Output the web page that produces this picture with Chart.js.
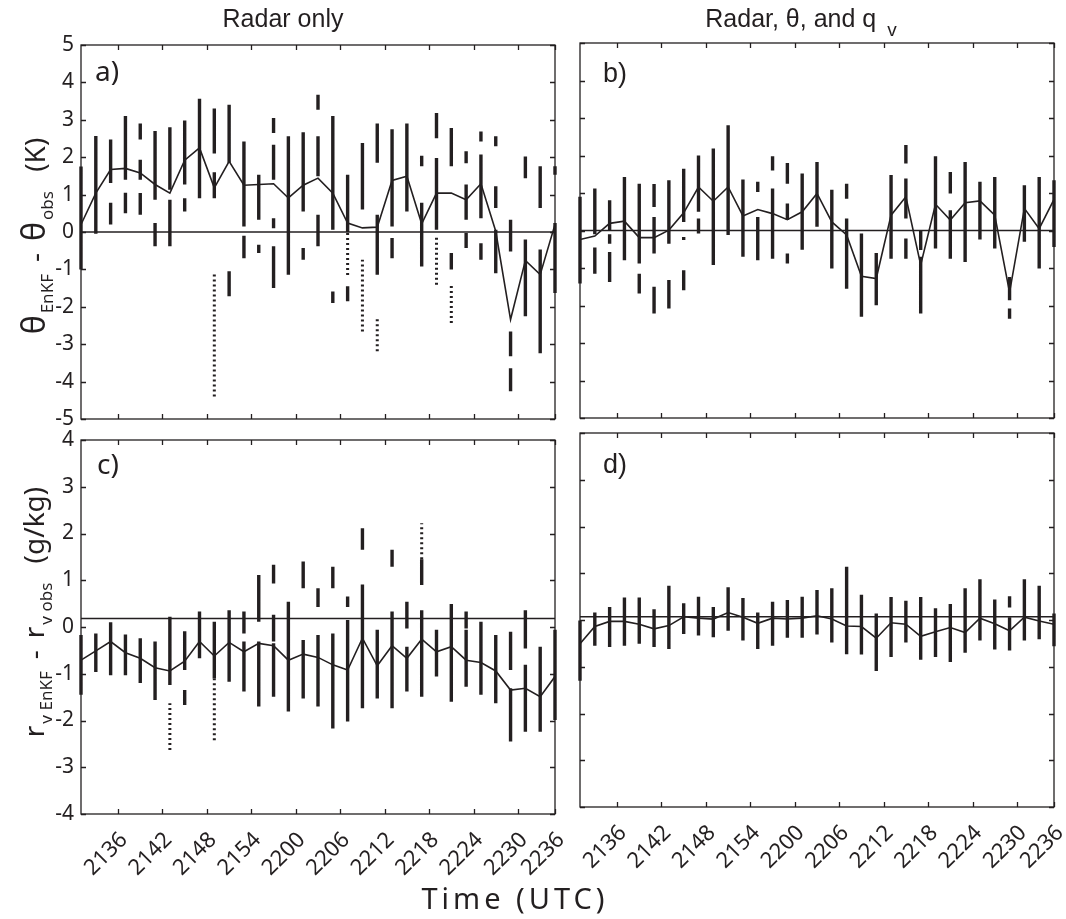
<!DOCTYPE html>
<html>
<head>
<meta charset="utf-8">
<script src="https://cdn.jsdelivr.net/npm/chart.js@4"></script>
<style>
  html, body { margin: 0; padding: 0; background: #fff; }
  body { width: 1066px; height: 919px; position: relative; overflow: hidden; color: #231f20; }
  canvas { position: absolute; left: 0; top: 0; }
  .t { position: absolute; white-space: nowrap; line-height: 1; }
  .title { font-family: "Liberation Sans", Arial, sans-serif; font-size: 25px; transform: translateX(-50%); }
  .tag { font-family: "Noto Sans", sans-serif; font-size: 28px; }
  .tag2 { font-family: "Liberation Sans", Arial, sans-serif; font-size: 27px; }
  .ylab { font-family: "Noto Sans", sans-serif; font-size: 28px; transform: translate(-50%, -50%) rotate(-90deg); }
  .ylab .g { font-size: 32px; }
  .ylab .s { font-size: 17px; position: relative; top: 8px; margin-left: 2px; }
  .ylab .gap { display: inline-block; width: 12px; }
  .xlab { font-family: "Noto Sans", sans-serif; font-size: 29px; letter-spacing: 4px; transform: translateX(-50%); }
</style>
</head>
<body>
<canvas id="panelA" width="1066" height="919"></canvas>
<canvas id="panelB" width="1066" height="919"></canvas>
<canvas id="panelC" width="1066" height="919"></canvas>
<canvas id="panelD" width="1066" height="919"></canvas>

<div class="t title" style="left:283px; top:6px;">Radar only</div>
<div class="t title" style="left:801px; top:6px;">Radar, &theta;, and q<span style="font-size:19px; position:relative; top:9px; margin-left:11px;">v</span></div>

<div class="t tag" style="left:95px; top:56px;">a)</div>
<div class="t tag2" style="left:603px; top:60px;">b)</div>
<div class="t tag" style="left:97px; top:449px;">c)</div>
<div class="t tag2" style="left:603px; top:451px;">d)</div>

<div class="t ylab" style="left:33px; top:236px;"><span class="g">&theta;</span><span class="s">EnKF</span><span class="gap"></span>-<span class="gap"></span><span class="g">&theta;</span><span class="s">obs</span><span class="gap"></span> (K)</div>
<div class="t ylab" style="left:33px; top:612px;">r<span class="s">v EnKF</span><span class="gap"></span>-<span class="gap"></span>r<span class="s">v obs</span><span class="gap"></span> (g/kg)</div>

<div class="t xlab" style="left:515px; top:883px;">Time (UTC)</div>

<script>
// Observation times, minutes after 21:00 UTC
const obsMinutes = [31, 33, 35, 37, 39, 41, 43, 45, 47, 49, 51, 53, 55, 57, 59, 61, 63,
                    65, 67, 69, 71, 73, 75, 77, 79, 81, 83, 85, 87, 89, 91, 93, 95];
const tickMinutes = [36, 42, 48, 54, 60, 66, 72, 78, 84, 90, 95];
const tickLabels = ['2136', '2142', '2148', '2154', '2200', '2206', '2212', '2218', '2224', '2230', '2236'];

// Ensemble spread per time: dense clusters of members [low, high]
const thetaRadarOnly = [
  [[-1.0, 1.75]], [[-0.05, 2.57]], [[1.31, 2.47], [0.2, 0.78]], [[1.4, 3.1], [0.5, 1.05]],
  [[2.47, 2.9], [1.4, 1.93], [0.46, 1.04]], [[0.86, 2.7], [-0.38, 0.24]], [[1.13, 2.8], [-0.38, 0.86]],
  [[1.27, 2.98], [0.55, 0.9]], [[0.9, 3.56]], [[2.1, 3.3], [0.9, 1.6]], [[1.85, 3.4], [-1.72, -1.05]],
  [[0.15, 2.42], [-0.7, -0.1]], [[0.33, 1.53], [-0.56, -0.34]], [[2.65, 3.05], [1.4, 2.33], [0.1, 0.37], [-1.5, -0.38]],
  [[-1.14, 2.56]], [[0.55, 2.67], [-0.74, -0.43]], [[3.27, 3.67], [1.49, 2.56], [-0.38, 0.46]],
  [[0.06, 3.1], [-1.9, -1.59]], [[0.0, 1.53], [-1.85, -1.45]], [[0.6, 2.38]],
  [[1.85, 2.9], [-1.14, 0.46]], [[0.15, 2.75], [-0.7, -0.16]], [[0.55, 2.9]], [[1.76, 2.04], [-0.92, 0.78]],
  [[2.51, 3.18], [0.06, 1.98]], [[1.76, 2.78], [-1.0, -0.56]], [[1.84, 2.16], [0.33, 1.27], [-0.43, -0.03]],
  [[2.42, 2.69], [0.37, 2.07], [-0.74, -0.3]], [[2.29, 2.56], [0.64, 1.22], [-1.1, 0.06]],
  [[-0.52, 0.33], [-3.32, -2.66], [-4.26, -3.64]], [[1.44, 2.02], [-2.25, -0.2]],
  [[0.64, 1.76], [-3.24, -0.47]], [[1.53, 1.76], [-1.63, 0.24]]
];
// Scattered outlying members [low, high]
const thetaRadarOnlySparse = [
  [], [], [], [], [], [], [], [], [], [[-4.4, -1.1]], [], [], [], [], [], [], [], [],
  [[-1.15, 0.0]], [[-2.66, -0.74]], [[-3.19, -2.3]], [], [], [], [[-1.41, -0.12]], [[-2.43, -1.41]],
  [], [], [], [], [], [], []
];
const thetaRadarMean = [0.2, 1.04, 1.67, 1.7, 1.58, 1.27, 1.04, 1.92, 2.25, 1.18, 1.89, 1.25, 1.27, 1.29,
  0.91, 1.25, 1.44, 1.04, 0.24, 0.11, 0.13, 1.38, 1.49, 0.22, 1.04, 1.04, 0.86, 1.29, 0.02, -2.34, -0.76, -1.14, 0.2];

const thetaAllObs = [
  [[-1.41, 0.9]], [[-0.1, 1.12], [-1.15, -0.45]], [[0.0, 0.81], [-0.35, -0.1], [-1.37, -0.57]], [[-0.79, 1.43]],
  [[-0.88, 1.25], [-1.68, -1.15]], [[0.63, 1.24], [-0.61, 0.36], [-2.21, -1.5]], [[-0.35, 1.34], [-2.08, -1.32]],
  [[0.23, 1.65], [-0.25, -0.17], [-1.59, -1.06]], [[0.5, 2.0], [-0.08, 0.32]], [[-0.92, 2.19]], [[-0.12, 2.81]],
  [[-0.7, 1.36]], [[1.03, 1.3], [-0.79, 0.36]], [[1.6, 1.98], [-0.75, 1.12]], [[1.25, 1.8], [0.28, 0.72], [-0.88, -0.61]],
  [[-0.51, 1.52]], [[0.1, 1.83]], [[-1.01, 1.09]], [[0.85, 1.25], [-1.55, 0.32]], [[-2.3, -0.08]], [[-1.99, -0.6]],
  [[-0.75, 1.48]], [[1.79, 2.28], [0.32, 1.39], [-0.75, -0.21]], [[-0.52, 0.01], [-2.21, -0.7]], [[-0.48, 1.98]],
  [[0.99, 1.56], [-0.75, 0.54]], [[-0.84, 1.83]], [[-0.24, 1.3]], [[-0.48, 1.43]], [[-1.86, -1.24], [-2.35, -2.08]],
  [[-0.3, 1.21]], [[-1.01, 1.43]], [[-0.44, 1.34]]
];
const thetaAllObsMean = [-0.24, -0.15, 0.19, 0.25, -0.19, -0.19, 0.01, 0.47, 1.16, 0.78, 1.16, 0.39, 0.56, 0.45,
  0.29, 0.5, 0.99, 0.23, -0.12, -1.22, -1.28, 0.41, 0.9, -0.92, 0.7, 0.28, 0.74, 0.79, 0.41, -1.65, 0.59, 0.05, 0.83];

const rvRadarOnly = [
  [[-1.45, -0.17]], [[-0.96, -0.14]], [[-1.03, 0.1]], [[-1.03, -0.16]], [[-1.2, -0.24]], [[-1.56, -0.31]],
  [[-1.24, 0.22]], [[-0.92, -0.09], [-1.67, -1.35]], [[-0.67, 0.33]], [[-1.1, 0.11]], [[-1.17, 0.36]],
  [[-0.14, 0.33], [-1.38, -0.31]], [[0.11, 1.11], [-1.7, -0.31]], [[0.93, 1.33], [-0.31, 0.26], [-1.49, -0.35]],
  [[-1.81, 0.54]], [[0.83, 1.4], [-1.53, -0.28]], [[0.43, 0.83], [-1.7, -0.17]], [[0.83, 1.29], [-2.17, -0.14]],
  [[0.43, 0.65], [-2.02, 0.15]], [[1.65, 2.11], [-1.74, 0.91]], [[-1.53, -0.06]], [[1.29, 1.65], [-1.74, 0.33]],
  [[-0.03, 0.54], [-1.38, -0.42]], [[0.9, 1.45], [-1.49, 0.36]], [[-1.06, -0.06]], [[-1.6, 0.49]],
  [[-0.03, 0.33], [-1.28, -0.06]], [[-1.45, 0.11]], [[-1.63, -0.17]], [[-0.92, -0.1], [-2.45, -1.31]],
  [[-0.46, 0.36], [-2.24, -0.81]], [[-2.24, -0.42]], [[-1.99, -0.06]]
];
const rvRadarOnlySparse = [
  [], [], [], [], [], [], [[-2.63, -1.63]], [], [], [[-2.42, -1.1]], [], [], [], [], [], [], [], [], [], [], [], [], [],
  [[1.45, 2.22]], [], [], [], [], [], [], [], [], []
];
const rvRadarMean = [-0.71, -0.51, -0.31, -0.55, -0.67, -0.87, -0.94, -0.73, -0.31, -0.62, -0.33, -0.53, -0.35, -0.4,
  -0.71, -0.58, -0.65, -0.81, -0.92, -0.24, -0.83, -0.4, -0.67, -0.26, -0.53, -0.42, -0.71, -0.76, -0.94, -1.35, -1.31, -1.49, -1.06];

const rvAllObs = [
  [[-1.3, -0.01]], [[-0.55, 0.16]], [[-0.58, 0.28]], [[-0.55, 0.48]], [[-0.51, 0.48]], [[-0.58, 0.23]],
  [[-0.62, 0.73]], [[-0.3, 0.36]], [[-0.33, 0.5]], [[-0.37, 0.28]], [[-0.23, 0.7]], [[-0.44, 0.47]],
  [[-0.62, 0.16]], [[-0.55, 0.39]], [[-0.38, 0.43]], [[-0.38, 0.5]], [[-0.31, 0.64]], [[-0.48, 0.68]],
  [[-0.73, 1.14]], [[-0.74, 0.54]], [[-1.09, 0.14]], [[-0.79, 0.49]], [[-0.48, 0.41]], [[-0.85, 0.49]],
  [[-0.79, 0.25]], [[-0.9, 0.34]], [[-0.7, 0.68]], [[-0.44, 0.87]], [[-0.63, 0.44]], [[0.27, 0.51], [-0.65, 0.06]],
  [[-0.44, 0.87]], [[-0.41, 0.73]], [[-0.56, 0.14]]
];
const rvAllObsMean = [-0.51, -0.14, -0.03, -0.03, -0.09, -0.19, -0.12, 0.07, 0.04, 0.02, 0.16, 0.06, -0.07, 0.04,
  0.02, 0.04, 0.09, 0.02, -0.13, -0.14, -0.39, -0.06, -0.09, -0.35, -0.25, -0.16, -0.27, 0.04, -0.08, -0.23, 0.06, -0.02, -0.09];

// Horizontal reference level drawn across each panel
const referenceLevel = { a: 0, b: 0, c: 0.18, d: 0.07 };

const INK = '#231f20';

// Turn per-time [low, high] clusters into vertical segments separated by gaps
function toSegments(clusters) {
  const pts = [];
  clusters.forEach((list, i) => {
    list.forEach(([lo, hi]) => {
      pts.push({ x: obsMinutes[i], y: lo }, { x: obsMinutes[i], y: hi }, { x: obsMinutes[i], y: null });
    });
  });
  return pts;
}

// Box frame plus inward ticks on all four sides
const framePlugin = {
  id: 'frame',
  afterDatasetsDraw(chart) {
    const { ctx, chartArea: a, scales: { x, y } } = chart;
    const len = 5;
    ctx.save();
    ctx.strokeStyle = INK;
    ctx.lineWidth = 1.3;
    ctx.beginPath();
    x.ticks.forEach(t => {
      const px = Math.round(x.getPixelForValue(t.value)) + 0.5;
      ctx.moveTo(px, a.bottom); ctx.lineTo(px, a.bottom - len);
      ctx.moveTo(px, a.top); ctx.lineTo(px, a.top + len);
    });
    y.ticks.forEach(t => {
      const py = Math.round(y.getPixelForValue(t.value)) + 0.5;
      ctx.moveTo(a.left, py); ctx.lineTo(a.left + len, py);
      ctx.moveTo(a.right, py); ctx.lineTo(a.right - len, py);
    });
    ctx.stroke();
    ctx.strokeRect(a.left, a.top, a.width, a.height);
    ctx.restore();
  }
};

function makePanel(id, p) {
  const first = obsMinutes[0], last = obsMinutes[obsMinutes.length - 1];
  return new Chart(document.getElementById(id), {
    type: 'line',
    data: {
      datasets: [
        { data: [{ x: first, y: p.ref }, { x: last, y: p.ref }], borderColor: INK, borderWidth: 1.5 },
        { data: toSegments(p.dense), borderColor: INK, borderWidth: 3.4, clip: false },
        { data: toSegments(p.sparse), borderColor: INK, borderWidth: 3, borderDash: [2, 3], clip: false },
        { data: obsMinutes.map((t, i) => ({ x: t, y: p.mean[i] })), borderColor: INK, borderWidth: 1.6 }
      ]
    },
    options: {
      responsive: false,
      animation: false,
      devicePixelRatio: 1,
      events: [],
      spanGaps: false,
      elements: { point: { radius: 0 }, line: { tension: 0, borderCapStyle: 'butt' } },
      layout: { padding: p.pad },
      plugins: { legend: { display: false }, tooltip: { enabled: false } },
      scales: {
        x: {
          type: 'linear', min: first, max: last,
          grid: { display: false, drawTicks: false }, border: { display: false },
          afterBuildTicks: ax => { ax.ticks = tickMinutes.map(v => ({ value: v })); },
          afterFit: ax => { ax.height = p.xh; ax.paddingLeft = 0; ax.paddingRight = 0; },
          ticks: {
            display: p.xLabels, autoSkip: false, minRotation: 45, maxRotation: 45, padding: 13, labelOffset: 6,
            color: INK, font: { family: 'Noto Sans', size: 22 },
            callback: (v, i) => tickLabels[i]
          }
        },
        y: {
          min: p.min, max: p.max,
          grid: { display: false, drawTicks: false }, border: { display: false },
          afterFit: ax => { ax.width = p.yw; ax.paddingTop = 0; ax.paddingBottom = 0; },
          ticks: { display: p.yLabels, stepSize: 1, padding: 7, color: INK, font: { family: 'Noto Sans', size: 21 } }
        }
      }
    },
    plugins: [framePlugin]
  });
}

makePanel('panelA', { dense: thetaRadarOnly, sparse: thetaRadarOnlySparse, mean: thetaRadarMean, ref: referenceLevel.a,
  min: -5, max: 5, yLabels: true, xLabels: false, yw: 81, xh: 0, pad: { left: 0, right: 511, top: 45, bottom: 500 } });
makePanel('panelB', { dense: thetaAllObs, sparse: [], mean: thetaAllObsMean, ref: referenceLevel.b,
  min: -5, max: 5, yLabels: false, xLabels: false, yw: 0, xh: 0, pad: { left: 580, right: 12, top: 43, bottom: 501 } });
makePanel('panelC', { dense: rvRadarOnly, sparse: rvRadarOnlySparse, mean: rvRadarMean, ref: referenceLevel.c,
  min: -4, max: 4, yLabels: true, xLabels: true, yw: 81, xh: 105, pad: { left: 0, right: 511, top: 440, bottom: 0 } });
makePanel('panelD', { dense: rvAllObs, sparse: [], mean: rvAllObsMean, ref: referenceLevel.d,
  min: -4, max: 4, yLabels: false, xLabels: true, yw: 0, xh: 105, pad: { left: 580, right: 12, top: 433, bottom: 7 } });
</script>
</body>
</html>
